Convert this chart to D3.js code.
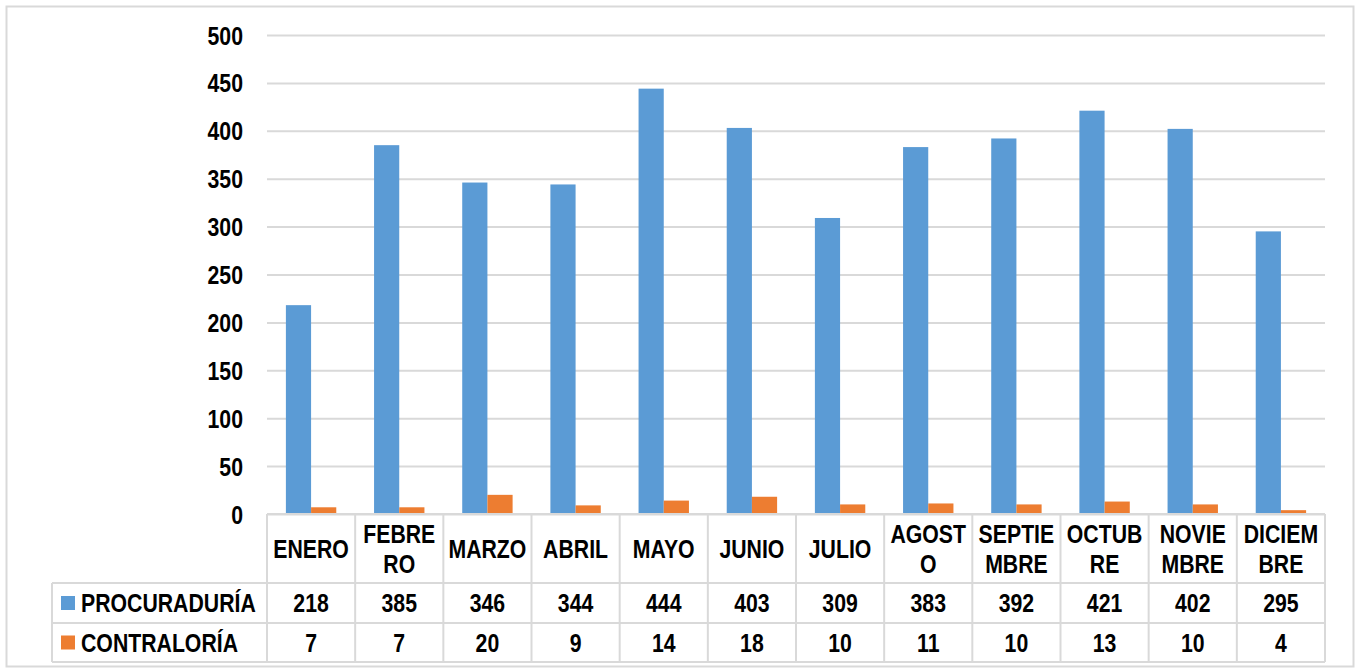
<!DOCTYPE html>
<html lang="es">
<head>
    <meta charset="UTF-8">
    <title>Procuraduría / Contraloría por mes</title>
    <script src="https://cdnjs.cloudflare.com/ajax/libs/d3/7.8.5/d3.min.js"></script>
    <style>
        html, body { margin: 0; padding: 0; background: #ffffff; }
        svg text {
            font-family: "Liberation Sans", Arial, sans-serif;
            font-weight: bold;
            fill: #000000;
        }
    </style>
</head>
<body>
<div id="chart"></div>
<script>
    const months = ['ENERO', 'FEBRERO', 'MARZO', 'ABRIL', 'MAYO', 'JUNIO', 'JULIO',
        'AGOSTO', 'SEPTIEMBRE', 'OCTUBRE', 'NOVIEMBRE', 'DICIEMBRE'];
    // how the month names wrap inside the table header
    const monthLines = [['ENERO'], ['FEBRE', 'RO'], ['MARZO'], ['ABRIL'], ['MAYO'], ['JUNIO'], ['JULIO'],
        ['AGOST', 'O'], ['SEPTIE', 'MBRE'], ['OCTUB', 'RE'], ['NOVIE', 'MBRE'], ['DICIEM', 'BRE']];
    const seriesNames = ['PROCURADURÍA', 'CONTRALORÍA'];
    const procuraduria = [218, 385, 346, 344, 444, 403, 309, 383, 392, 421, 402, 295];
    const contraloria = [7, 7, 20, 9, 14, 18, 10, 11, 10, 13, 10, 4];
    const yTicks = [0, 50, 100, 150, 200, 250, 300, 350, 400, 450, 500];
    const colors = ['#5b9bd5', '#ed7d31'];

    const width = 1358;
    const height = 670;
    const plot = {left: 267, right: 1325, top: 35, bottom: 514};
    const headerBottom = 583;
    const row1Bottom = 623;
    const row2Bottom = 662;
    const legendLeft = 52;
    const gridColor = '#d9d9d9';
    const narrow = 0.85; // mimic a narrow bold face

    const values = [procuraduria, contraloria];

    const svg = d3.select('#chart')
        .append('svg')
        .attr('width', width)
        .attr('height', height);

    // outer frame
    svg.append('rect')
        .attr('x', 6.5).attr('y', 6.5)
        .attr('width', 1347).attr('height', 660)
        .attr('fill', 'none')
        .attr('stroke', gridColor)
        .attr('stroke-width', 2);

    const x0 = d3.scaleBand()
        .domain(months)
        .range([plot.left, plot.right])
        .padding(0);

    const x1 = d3.scaleBand()
        .domain(seriesNames)
        .range([0, x0.bandwidth()])
        .paddingInner(0)
        .paddingOuter(0.75);

    const y = d3.scaleLinear()
        .domain([0, 500])
        .range([plot.bottom, plot.top]);

    // gridlines + tick labels
    const yAxis = d3.axisLeft(y)
        .tickValues(yTicks)
        .tickSize(-(plot.right - plot.left))
        .tickPadding(24);

    const gy = svg.append('g')
        .attr('transform', `translate(${plot.left},0)`)
        .call(yAxis);
    gy.select('.domain').remove();
    gy.selectAll('.tick line')
        .attr('stroke', gridColor)
        .attr('stroke-width', 2);
    gy.selectAll('.tick text')
        .attr('font-size', 25)
        .attr('dy', '0.36em');

    // bars
    const groups = svg.append('g')
        .selectAll('g')
        .data(months)
        .join('g')
        .attr('transform', d => `translate(${x0(d)},0)`);

    groups.selectAll('rect')
        .data((m, i) => seriesNames.map((s, k) => ({s, k, v: values[k][i]})))
        .join('rect')
        .attr('x', d => x1(d.s))
        .attr('width', x1.bandwidth())
        .attr('y', d => y(d.v))
        .attr('height', d => y(0) - y(d.v))
        .attr('fill', d => colors[d.k]);

    // data table
    const table = svg.append('g')
        .attr('fill', 'none')
        .attr('stroke', gridColor)
        .attr('stroke-width', 2);

    const hLines = [
        [plot.left, plot.right, plot.bottom],
        [legendLeft, plot.right, headerBottom],
        [legendLeft, plot.right, row1Bottom],
        [legendLeft, plot.right, row2Bottom]
    ];
    table.selectAll('.h')
        .data(hLines)
        .join('line')
        .attr('x1', d => d[0]).attr('x2', d => d[1])
        .attr('y1', d => d[2]).attr('y2', d => d[2]);

    const colEdges = months.map(m => x0(m)).concat([plot.right]);
    table.selectAll('.v')
        .data(colEdges)
        .join('line')
        .attr('x1', d => d).attr('x2', d => d)
        .attr('y1', plot.bottom).attr('y2', row2Bottom);

    table.append('line')
        .attr('x1', legendLeft).attr('x2', legendLeft)
        .attr('y1', headerBottom).attr('y2', row2Bottom);

    // header text
    const header = svg.append('g')
        .selectAll('text')
        .data(months)
        .join('text')
        .attr('x', d => x0(d) + x0.bandwidth() / 2)
        .attr('text-anchor', 'middle')
        .attr('font-size', 25);

    header.each(function (m, i) {
        const lines = monthLines[i];
        const lineH = 30;
        const mid = (plot.bottom + headerBottom) / 2;
        const first = mid - (lines.length - 1) * lineH / 2;
        d3.select(this).selectAll('tspan')
            .data(lines)
            .join('tspan')
            .attr('x', x0(m) + x0.bandwidth() / 2)
            .attr('y', (d, j) => first + j * lineH)
            .attr('dy', '0.36em')
            .text(d => d);
    });

    // value rows with legend keys
    const rowMids = [(headerBottom + row1Bottom) / 2, (row1Bottom + row2Bottom) / 2];

    seriesNames.forEach((s, k) => {
        const cy = rowMids[k];
        svg.append('rect')
            .attr('x', 61)
            .attr('y', cy - 7)
            .attr('width', 14)
            .attr('height', 14)
            .attr('fill', colors[k]);
        svg.append('text')
            .attr('x', 81)
            .attr('y', cy)
            .attr('dy', '0.36em')
            .attr('font-size', 25)
            .text(s);
        svg.append('g')
            .selectAll('text')
            .data(values[k])
            .join('text')
            .attr('x', (d, i) => x0(months[i]) + x0.bandwidth() / 2)
            .attr('y', cy)
            .attr('dy', '0.36em')
            .attr('text-anchor', 'middle')
            .attr('font-size', 25)
            .text(d => d);
    });

    // squeeze every text run horizontally
    svg.selectAll('text').each(function () {
        const spans = d3.select(this).selectAll('tspan');
        const targets = spans.empty() ? [this] : spans.nodes();
        targets.forEach(node => {
            const w = node.getComputedTextLength();
            d3.select(node)
                .attr('textLength', w * narrow)
                .attr('lengthAdjust', 'spacingAndGlyphs');
        });
    });
</script>
</body>
</html>
